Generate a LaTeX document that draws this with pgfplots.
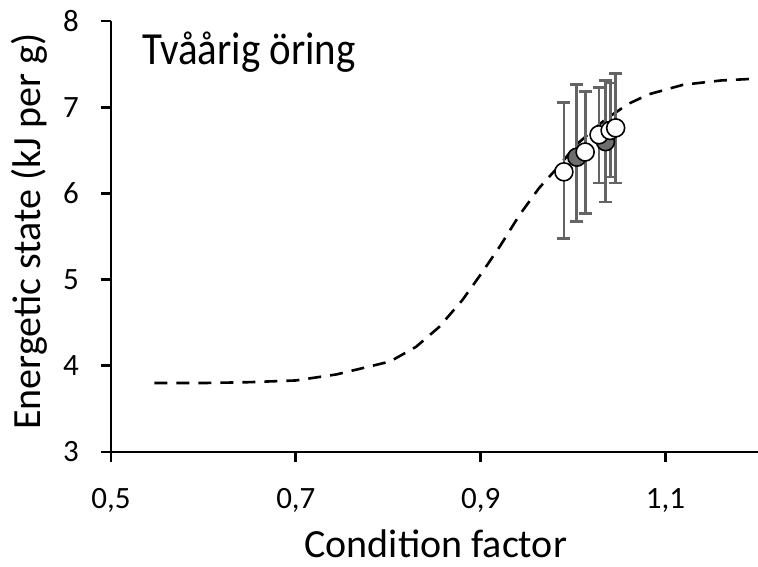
\documentclass[border=0pt]{standalone}
\usepackage{graphicx}
\usepackage{pgfplots}
\pgfplotsset{compat=1.18}
\usepackage{fontspec}
\setmainfont{Carlito}
\definecolor{errgray}{RGB}{100,100,100}
\definecolor{ptgray}{RGB}{110,110,110}
\pgfplotstableread{
x y ep em
0.990 6.25 0.80 0.77
1.004 6.42 0.84 0.75
1.013 6.48 0.70 0.71
1.028 6.68 0.55 0.56
1.035 6.60 0.71 0.70
1.040 6.73 0.55 0.54
1.046 6.76 0.63 0.64
}\errdata
\pgfplotstableread{
x y
1.004 6.42
1.035 6.60
}\graypts
\pgfplotstableread{
x y
0.990 6.25
1.013 6.48
1.028 6.68
1.040 6.73
1.046 6.76
}\whitepts
\pgfplotstableread{
x y
0.547 3.80
0.600 3.80
0.650 3.81
0.700 3.83
0.744 3.90
0.802 4.05
0.830 4.22
0.855 4.45
0.880 4.76
0.900 5.06
0.921 5.39
0.942 5.75
0.963 6.06
0.984 6.31
1.004 6.57
1.035 6.86
1.060 7.04
1.082 7.15
1.119 7.26
1.160 7.31
1.196 7.33
}\curve
\begin{document}
\begin{tikzpicture}
\begin{axis}[name=ax, scale only axis, width=647bp, height=431bp,
  xmin=0.5, xmax=1.2, ymin=3, ymax=8,
  axis lines*=left,
  axis line style={line width=2.8bp, black},
  xtick={0.5,0.7,0.9,1.1}, xticklabels={{0,5},{0,7},{0,9},{1,1}},
  ytick={3,4,5,6,7,8}, yticklabels={3,4,5,6,7,8},
  tick align=outside, major tick length=10bp,
  tick style={line width=2.8bp, black},
  ticklabel style={font=\fontsize{31bp}{34bp}\selectfont, inner sep=0pt},
  yticklabel style={anchor=east, xshift=-22bp},
  xticklabel style={anchor=north, yshift=-26bp},
  xlabel={Condition factor},
  ylabel={Energetic state (kJ per g)},
  label style={font=\fontsize{40bp}{44bp}\selectfont, inner sep=0pt},
  xlabel style={at={(axis description cs:0.502,-0.245)}, anchor=base},
  ylabel style={at={(axis description cs:-0.1082,0.5116)}, anchor=base},
]
\addplot[black, line width=2.6bp, dash pattern=on 13bp off 9bp] table[x=x,y=y] {\curve};
\addplot[draw=none, mark=none, forget plot,
  error bars/.cd, y dir=both, y explicit,
  error bar style={line width=2.8bp, errgray},
  error mark options={line width=2.8bp, errgray, mark size=6.5bp, rotate=90}]
  table[x=x, y=y, y error plus=ep, y error minus=em] {\errdata};
\addplot[only marks, mark=*, mark size=9bp, mark options={fill=ptgray, draw=black, line width=1.6bp}] table[x=x,y=y] {\graypts};
\addplot[only marks, mark=*, mark size=9bp, mark options={fill=white, draw=black, line width=1.6bp}] table[x=x,y=y] {\whitepts};
\node[anchor=base west, inner sep=0pt, font=\fontsize{46bp}{50bp}\selectfont] at (axis description cs:0.0479,0.898) {\scalebox{0.89}[1]{Tvåårig öring}};
\end{axis}
\pgfresetboundingbox
\path ([xshift=-111bp,yshift=-115bp]ax.south west) rectangle ([yshift=21bp]ax.north east);
\end{tikzpicture}
\end{document}
